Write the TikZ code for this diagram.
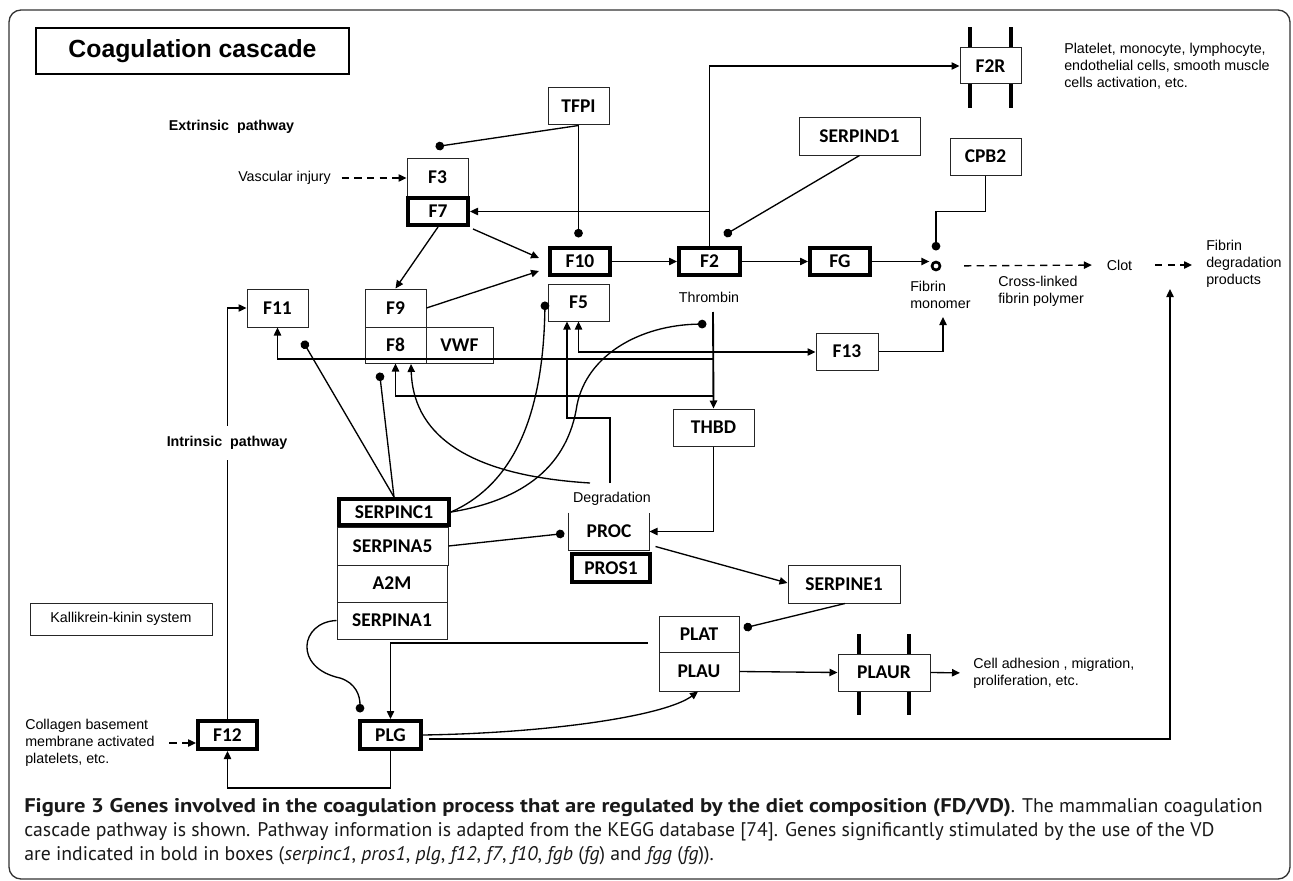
\documentclass[tikz,border=0pt]{standalone}
\usepackage{graphicx}
\usepackage{fontspec}
\setmainfont{Liberation Sans}
\newfontfamily\carl{Carlito}
\newfontfamily\capfont{PT Sans}
\usetikzlibrary{arrows.meta,calc}
\begin{document}
\begin{tikzpicture}[x=0.75pt,y=-0.75pt,
  sz/.style 2 args={minimum width=#1*0.75pt,minimum height=#2*0.75pt},
  gene/.style={draw=black!85,line width=0.75pt,inner sep=0pt,font=\carl\bfseries\fontsize{14.6}{16}\selectfont},
  tgene/.style={gene,draw=black,line width=3pt},
  txt/.style={inner sep=0pt,align=left,font=\fontsize{10.7}{12.8}\selectfont},
  btxt/.style={inner sep=0pt,font=\bfseries\fontsize{10.7}{12.8}\selectfont},
  conn/.style={line width=1pt},
  arr/.style={conn,-{Triangle[length=6pt,width=5.5pt]}},
  inh/.style={conn,-{Circle[length=6.5pt]}},
  dasharr/.style={arr,dash pattern=on 5.5pt off 4pt},
  bar/.style={line width=3pt},
  captxt/.style={inner sep=0pt,text=black!90,font=\capfont\fontsize{14.8}{17}\selectfont}]
\useasboundingbox (0,0) rectangle (1293,881);
\draw[line width=1pt,rounded corners=9pt,black!80] (9,10) rectangle (1290,879);

% title
\node[draw,line width=2pt,sz={313}{46},inner sep=0pt,font=\bfseries\fontsize{18.6}{20}\selectfont] (title) at (192.5,51) {Coagulation cascade};

% genes
\node[gene,sz={61}{37}] (TFPI) at (578.5,106.5) {TFPI};
\node[gene,sz={61}{38}] (F3) at (437.5,177) {F3};
\node[tgene,sz={60}{27}] (F7) at (438,211.5) {F7};
\node[tgene,sz={60}{27}] (F10) at (580,261.5) {F10};
\node[tgene,sz={61}{27}] (F2) at (709.5,261.5) {F2};
\node[tgene,sz={60}{27}] (FG) at (840,261.5) {FG};
\node[gene,sz={61}{36}] (F2R) at (990.5,66) {F2R};
\node[gene,sz={121}{37}] (SERPIND1) at (859.5,136.5) {SERPIND1};
\node[gene,sz={71}{37}] (CPB2) at (985.5,156.5) {CPB2};
\node[gene,sz={61}{38}] (F11) at (277.5,308) {F11};
\node[gene,sz={61}{38}] (F9) at (395.5,308) {F9};
\node[gene,sz={61}{36}] (F8) at (395.5,345) {F8};
\node[gene,sz={67}{36}] (VWF) at (459.5,345) {VWF};
\node[gene,sz={61}{37}] (F5) at (578.5,302.5) {F5};
\node[gene,sz={62}{37}] (F13) at (847,351.5) {F13};
\node[gene,sz={81}{37}] (THBD) at (713.5,427.5) {THBD};
\node[tgene,sz={110}{26}] (SERPINC1) at (394,512) {SERPINC1};
\node[gene,sz={111}{38}] (SERPINA5) at (392.5,546) {SERPINA5};
\node[gene,sz={110}{37}] (A2M) at (392,583.5) {A2M};
\node[gene,sz={110}{37}] (SERPINA1) at (392,620.5) {SERPINA1};
\node[gene,draw=none,sz={80}{37}] (PROC) at (609,531.5) {PROC};
\draw[line width=0.75pt,black!85] (PROC.north west) -- (PROC.south west) -- (PROC.south east) -- (PROC.north east);
\node[tgene,sz={78}{28}] (PROS1) at (611,568) {PROS1};
\node[gene,sz={112}{38}] (SERPINE1) at (844,584) {SERPINE1};
\node[gene,sz={80}{36}] (PLAT) at (699,634) {PLAT};
\node[gene,sz={80}{39}] (PLAU) at (699,671.5) {PLAU};
\node[gene,sz={92}{37}] (PLAUR) at (884,672.5) {PLAUR};
\node[tgene,sz={59}{28}] (F12) at (227.5,735) {F12};
\node[tgene,sz={61}{28}] (PLG) at (390.5,735) {PLG};
\node[draw=black!85,line width=0.75pt,sz={182}{32},inner sep=0pt,font=\fontsize{10.7}{12.8}\selectfont] (KK) at (121,619) {Kallikrein-kinin system};
\node[circle,draw,line width=2pt,minimum size=6pt,inner sep=0pt] (fm) at (936,266) {};

% receptor bars
\draw[bar] ($(F2R.north west)+(10,0)$) -- ++(0,-20);
\draw[bar] ($(F2R.north west)+(51,0)$) -- ++(0,-20);
\draw[bar] ($(F2R.south west)+(10,0)$) -- ++(0,24);
\draw[bar] ($(F2R.south west)+(51,0)$) -- ++(0,24);
\draw[bar] ($(PLAUR.north west)+(21,0)$) -- ++(0,-20);
\draw[bar] ($(PLAUR.north west)+(71,0)$) -- ++(0,-20);
\draw[bar] ($(PLAUR.south west)+(21,0)$) -- ++(0,23);
\draw[bar] ($(PLAUR.south west)+(71,0)$) -- ++(0,23);

% texts
\node[btxt] (ext) at (231.5,127) {Extrinsic\ \ pathway};
\node[txt,anchor=west] (vi) at (238,178) {Vascular injury};
\node[txt] (thrombin) at (709,297) {Thrombin};
\node[txt] (deg) at (612,499) {Degradation};
\node[txt,anchor=west] (fmtext) at (910,294.5) {Fibrin\\monomer};
\node[txt,anchor=west] (xl) at (998,291.5) {Cross-linked\\fibrin polymer};
\node[txt] (clot) at (1119.5,265) {Clot};
\node[txt,anchor=west] (fdp) at (1206,264) {Fibrin\\degradation\\products};
\node[txt,anchor=west] (plt) at (1064,66) {Platelet, monocyte, lymphocyte,\\endothelial cells, smooth muscle\\cells activation, etc.};
\node[txt,anchor=west] (cell) at (973,673) {Cell adhesion , migration,\\proliferation, etc.};
\node[txt,anchor=west] (coll) at (25,743) {Collagen basement\\membrane activated\\platelets, etc.};

% free end points
\coordinate (d3) at (435.5,146.7);
\coordinate (d10) at (578.5,237.5);
\coordinate (d2) at (724.1,235.3);
\coordinate (dfm) at (936,250.5);
\coordinate (d11) at (302.7,341);
\coordinate (d8) at (379.5,372.5);
\coordinate (d5) at (545,301.5);
\coordinate (dthr) at (706.5,324);
\coordinate (dproc) at (564.5,533.5);
\coordinate (dplat) at (743.6,628.1);
\coordinate (dplg) at (360,712.5);
\coordinate (fmin) at (943,317);
\coordinate (thr) at (713,312);
\coordinate (y352) at (0,352);
\coordinate (y359) at (0,359);
\coordinate (y396) at (0,396);
\coordinate (dg1) at (610,483);
\coordinate (dg2) at (590,483);
\coordinate (k5) at (567,418);
\coordinate (f8in) at (411,364);
\coordinate (fdpin) at (1170,289);

% connectors
\draw[dasharr,shorten <=8pt] (vi.east) -- (F3.west |- vi.east);
\draw[inh] (TFPI.south) -- (d3);
\draw[inh] (TFPI.south) -- (d10);
\draw[arr] (F7.south) -- (F9.north);
\draw[arr] ($(F7.south east)+(3,2)$) -- ($(F10.west)+(-9,-3.5)$);
\draw[arr] (F9.east) -- ($(F10.west)+(-9,9.5)$);
\draw[arr] (F10.east) -- (F2.west);
\draw[arr] (F2.east) -- (FG.west);
\draw[arr,shorten >=1pt] (FG.east) -- (fm.west |- FG.east);
\draw[arr] (F2.north) |- (F2R.west);
\draw[arr] (F2.north |- F7.east) -- (F7.east);
\draw[inh] (SERPIND1.south) -- (d2);
\draw[inh] (CPB2.south) -- ++(0,36) -| (dfm);
\draw[dasharr,shorten <=17pt,shorten >=11pt] (fm.east) -- (clot.west);
\draw[dasharr,shorten <=17pt,shorten >=10.5pt] (clot.east) -- (fdp.west |- clot.east);
\draw[arr] (F13.east) -| (fmin);
\draw[arr,line width=1.4pt] (thr) -- (THBD.north);
\draw[arr] (thr |- y352) -- (F13.west |- y352);
\draw[arr] (thr |- y352) -| (F5.south);
\draw[arr] (thr |- y359) -| (F11.south);
\draw[arr] (thr |- y396) -| (F8.south);
\draw[arr] (dg1) |- (k5) -- (k5 |- F5.south);
\draw[arr] (dg2) .. controls (460,475) and (413,430) .. (f8in);
\draw[inh] (SERPINC1.north) -- (d11);
\draw[inh] (SERPINC1.north) -- (d8);
\draw[inh] (SERPINC1.east) .. controls (505,488) and (543,430) .. (d5);
\draw[inh] (SERPINC1.east) .. controls (525,500) and (568,465) .. (577,405) .. controls (587,355) and (640,325) .. (dthr);
\draw[inh] (SERPINA5.east) -- (dproc);
\draw[arr] (THBD.south) |- (PROC.east);
\draw[arr] ($(PROC.south east)+(6,-4)$) -- ($(SERPINE1.west)+(0,-1)$);
\draw[inh] ($(SERPINE1.south)+(1,0)$) -- (dplat);
\draw[arr] ($(PLAT.west)+(-11,9)$) -| (PLG.north);
\draw[arr] (PLAU.east) -- (PLAUR.west);
\draw[arr,shorten >=9.75pt] (PLAUR.east) -- (cell.west);
\draw[arr] (PLG.east) .. controls (550,733) and (665,716) .. ($(PLAU.south)+(-1,0)$);
\draw[arr] ($(PLG.east)+(6,4)$) -| (fdpin);
\draw[arr] (PLG.south) -- ++(0,37) -| (F12.south);
\draw[arr] (F12.north) |- (F11.west);
\node[btxt,fill=white,inner xsep=2pt,inner ysep=7.5pt] (intr) at (227,443) {Intrinsic\ \ pathway};
\draw[inh] (SERPINA1.west) .. controls (300,622) and (293,668) .. (340,678) .. controls (356,683) and (360,696) .. (dplg);
\draw[dasharr,shorten <=11pt] (coll.east) -- (F12.west |- coll.east);

% caption
\node[captxt,anchor=west] (cap1) at (24,808) {\scalebox{1.145}[1]{\textbf{Figure 3 Genes involved in the coagulation process that are regulated by the diet composition (FD/VD)}}. The mammalian coagulation};
\node[captxt,anchor=west] (cap2) at (24,832) {cascade pathway is shown. Pathway information is adapted from the KEGG database [74]. Genes significantly stimulated by the use of the VD};
\node[captxt,anchor=west] (cap3) at (24,856) {are indicated in bold in boxes (\textit{serpinc1}, \textit{pros1}, \textit{plg}, \textit{f12}, \textit{f7}, \textit{f10}, \textit{fgb} (\textit{fg}) and \textit{fgg} (\textit{fg})).};
\end{tikzpicture}
\end{document}
